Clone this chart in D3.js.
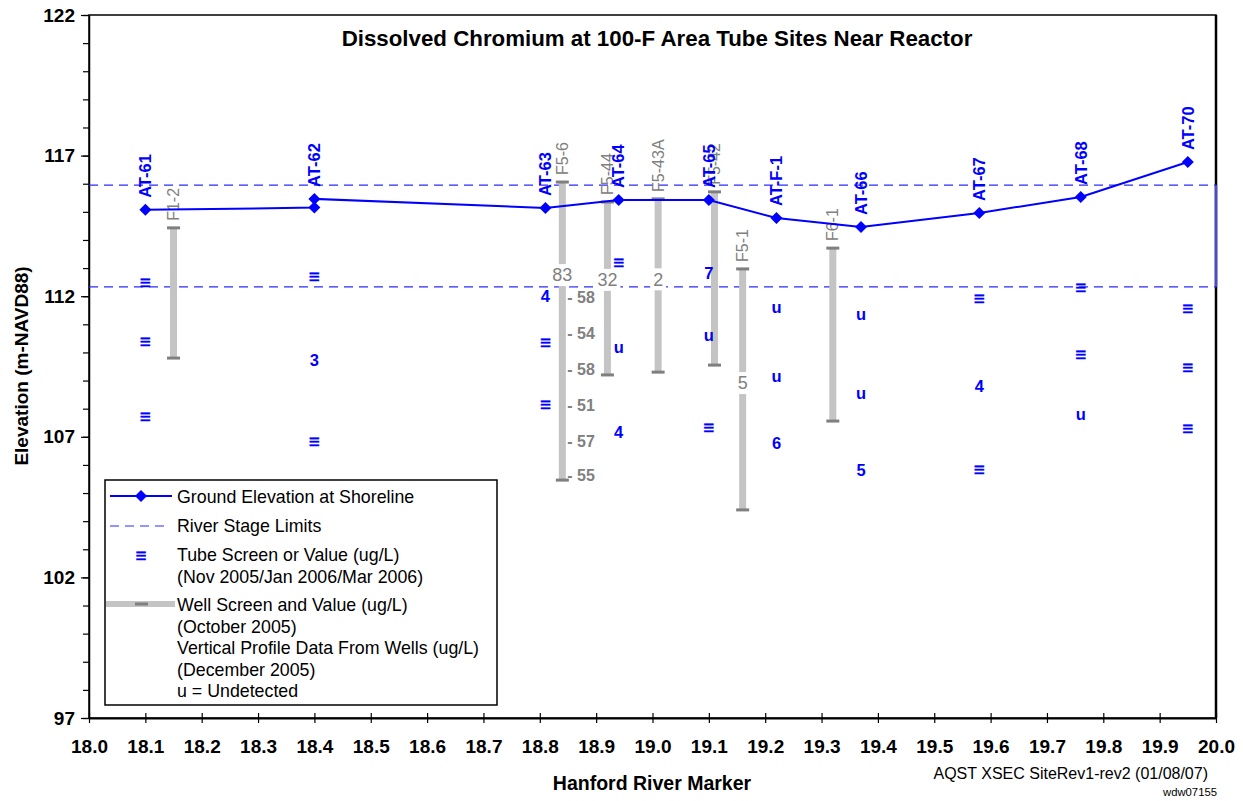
<!DOCTYPE html>
<html>
<head>
<meta charset="utf-8">
<script src="https://cdn.jsdelivr.net/npm/d3@7"></script>
<style>
  html, body { margin: 0; padding: 0; background: #fff; }
  svg { display: block; font-family: "Liberation Sans", Arial, sans-serif; }
</style>
</head>
<body>
<svg id="chart" width="1243" height="801"></svg>
<script>
// ---------------- DATA ----------------
const xTicks = [18.0,18.1,18.2,18.3,18.4,18.5,18.6,18.7,18.8,18.9,19.0,19.1,19.2,19.3,19.4,19.5,19.6,19.7,19.8,19.9,20.0];
const yMajorTicks = [97, 102, 107, 112, 117, 122];
const yMinorTicks = d3.range(97, 123, 1);

// Ground elevation at shoreline (line with diamonds)
const groundRM   = [18.10, 18.40, 18.40, 18.81, 18.94, 19.10, 19.22, 19.37, 19.58, 19.76, 19.95];
const groundElev = [115.07, 115.15, 115.46, 115.14, 115.42, 115.42, 114.78, 114.46, 114.96, 115.53, 116.77];

// River stage limits
const riverStage = [115.95, 112.33];

// Tube sites
const tubeNames = ["AT-61","AT-62","AT-63","AT-64","AT-65","AT-F-1","AT-66","AT-67","AT-68","AT-70"];
const tubeRM    = [18.10, 18.40, 18.81, 18.94, 19.10, 19.22, 19.37, 19.58, 19.76, 19.95];
const tubeTop   = [115.07, 115.46, 115.14, 115.42, 115.42, 114.78, 114.46, 114.96, 115.53, 116.77];
// Tube screen depths (elevation) and values, three per tube
const tubeElevs = [
  [112.47, 110.37, 107.70],
  [112.68, 109.73, 106.82],
  [112.01, 110.34, 108.13],
  [113.18, 110.19, 107.17],
  [112.83, 110.62, 107.31],
  [111.62, 109.16, 106.78],
  [111.37, 108.56, 105.82],
  [111.90, 108.81, 105.82],
  [112.29, 109.91, 107.81],
  [111.54, 109.45, 107.28]
];
const tubeValues = [
  ["≡","≡","≡"],
  ["≡","3","≡"],
  ["4","≡","≡"],
  ["≡","u","4"],
  ["7","u","≡"],
  ["u","u","6"],
  ["u","u","5"],
  ["≡","4","≡"],
  ["≡","≡","u"],
  ["≡","≡","≡"]
];

// Wells
const wellNames   = ["F1-2","F5-6","F5-44","F5-43A","F5-42","F5-1","F6-1"];
const wellRM      = [18.15, 18.84, 18.92, 19.01, 19.11, 19.16, 19.32];
const wellTop     = [114.43, 116.06, 115.35, 115.46, 115.71, 112.97, 113.71];
const wellBottom  = [109.80, 105.46, 109.20, 109.30, 109.55, 104.40, 107.56];
const wellValue   = [null, "83", "32", "2", null, "5", null];
const wellValElev = [null, 112.75, 112.58, 112.60, null, 108.91, null];

// Vertical profile data (well F5-6, December 2005)
const profileRM     = 18.84;
const profileElevs  = [111.94, 110.66, 109.41, 108.13, 106.82, 105.64];
const profileValues = ["58", "54", "58", "51", "57", "55"];

// ---------------- CHART ----------------
const svg = d3.select("#chart");
const L = 89, R = 1216, T = 15, B = 718;
const x = d3.scaleLinear().domain([18.0, 20.0]).range([L, R]);
const y = d3.scaleLinear().domain([97, 122]).range([B, T]);

const BLUE = "#0000ff";
const DASH = "#2b2bff";
const GRAYBAR = "#c4c4c4";
const GRAYDARK = "#7f7f7f";
const GRAYTXT = "#808080";
const FONT = '"Liberation Sans", Arial, sans-serif';

// plot frame
svg.append("rect").attr("x", L).attr("y", T).attr("width", R - L).attr("height", B - T)
  .attr("fill", "none").attr("stroke", "#000").attr("stroke-width", 1.5);
svg.append("line").attr("x1", R).attr("x2", R).attr("y1", T).attr("y2", B)
  .attr("stroke", "#000").attr("stroke-width", 2.5);
// blue segment on right edge between river stage limits
svg.append("line").attr("x1", R).attr("x2", R)
  .attr("y1", y(riverStage[0])).attr("y2", y(riverStage[1]))
  .attr("stroke", "#4a4ad0").attr("stroke-width", 2.5);

// X axis
const xAxis = d3.axisBottom(x).tickValues(xTicks).tickFormat(d3.format(".1f"))
  .tickSizeInner(5).tickSizeOuter(0).tickPadding(17);
const gx = svg.append("g").attr("transform", `translate(0,${B})`).call(xAxis);
gx.select(".domain").attr("stroke", "#000").attr("stroke-width", 2);
gx.selectAll(".tick line").attr("y1", -5).attr("y2", 5).attr("stroke", "#000").attr("stroke-width", 1.2);
gx.selectAll(".tick text").attr("font-size", 19).attr("font-weight", "bold")
  .attr("font-family", FONT).attr("fill", "#000");

// Y axis minor ticks
const gyMinor = svg.append("g").attr("transform", `translate(${L},0)`)
  .call(d3.axisLeft(y).tickValues(yMinorTicks).tickSize(6).tickFormat(""));
gyMinor.select(".domain").remove();
gyMinor.selectAll(".tick line").attr("stroke", "#000").attr("stroke-width", 1.2);
// Y axis major
const gy = svg.append("g").attr("transform", `translate(${L},0)`)
  .call(d3.axisLeft(y).tickValues(yMajorTicks).tickSizeInner(8).tickSizeOuter(0).tickPadding(6));
gy.select(".domain").attr("stroke", "#000").attr("stroke-width", 1.5);
gy.selectAll(".tick line").attr("stroke", "#000").attr("stroke-width", 1.2);
gy.selectAll(".tick text").attr("font-size", 19).attr("font-weight", "bold")
  .attr("font-family", FONT).attr("fill", "#000");

// river stage limits
svg.selectAll(".stage").data(riverStage).enter().append("line")
  .attr("x1", L).attr("x2", R).attr("y1", d => y(d)).attr("y2", d => y(d))
  .attr("stroke", DASH).attr("stroke-width", 1.2).attr("stroke-dasharray", "9,6");

// wells
const wells = wellNames.map((n, i) => ({n, rm: wellRM[i], top: wellTop[i], bot: wellBottom[i], v: wellValue[i], ve: wellValElev[i]}));
const wg = svg.append("g");
wg.selectAll(".wbar").data(wells).enter().append("rect")
  .attr("x", d => x(d.rm) - 3.5).attr("width", 7)
  .attr("y", d => y(d.top)).attr("height", d => y(d.bot) - y(d.top))
  .attr("fill", GRAYBAR);
wg.selectAll(".capt").data(wells).enter().append("rect")
  .attr("x", d => x(d.rm) - 6.5).attr("width", 13)
  .attr("y", d => y(d.top) - 1.5).attr("height", 3).attr("fill", GRAYDARK);
wg.selectAll(".capb").data(wells).enter().append("rect")
  .attr("x", d => x(d.rm) - 6.5).attr("width", 13)
  .attr("y", d => y(d.bot) - 1.5).attr("height", 3).attr("fill", GRAYDARK);
// value labels with white background gap
const wv = wells.filter(d => d.v !== null);
wg.selectAll(".wvbg").data(wv).enter().append("rect")
  .attr("x", d => x(d.rm) - d.v.length * 5 - 3).attr("width", d => d.v.length * 10 + 6)
  .attr("y", d => y(d.ve) - 11).attr("height", 22).attr("fill", "#fff");
wg.selectAll(".wvt").data(wv).enter().append("text")
  .attr("x", d => x(d.rm)).attr("y", d => y(d.ve)).attr("dy", "0.35em")
  .attr("text-anchor", "middle").attr("font-size", 18).attr("fill", GRAYTXT).text(d => d.v);
// well names
wg.selectAll(".wname").data(wells).enter().append("text")
  .attr("transform", d => `translate(${x(d.rm)},${y(d.top) - 7}) rotate(-90)`)
  .attr("dy", "0.35em").attr("text-anchor", "start")
  .attr("font-size", 16).attr("fill", GRAYTXT).text(d => d.n);

// vertical profile labels
const prof = profileElevs.map((e, i) => ({e, v: profileValues[i]}));
svg.selectAll(".prof").data(prof).enter().append("text")
  .attr("x", x(profileRM) + 5).attr("y", d => y(d.e)).attr("dy", "0.35em")
  .attr("font-size", 16).attr("font-weight", "bold").attr("fill", GRAYTXT)
  .attr("xml:space", "preserve").text(d => "- " + d.v);

// ground elevation line
const gpts = groundRM.map((r, i) => [r, groundElev[i]]);
svg.append("path").datum(gpts)
  .attr("d", d3.line().x(d => x(d[0])).y(d => y(d[1])))
  .attr("fill", "none").attr("stroke", BLUE).attr("stroke-width", 2);
const diamond = d3.symbol().type(d3.symbolSquare).size(72);
svg.selectAll(".gpt").data(gpts).enter().append("path")
  .attr("d", diamond)
  .attr("transform", d => `translate(${x(d[0])},${y(d[1])}) rotate(45)`)
  .attr("fill", BLUE);

// tube labels
const tubes = tubeNames.map((n, i) => ({n, rm: tubeRM[i], top: tubeTop[i]}));
svg.selectAll(".tname").data(tubes).enter().append("text")
  .attr("transform", d => `translate(${x(d.rm)},${y(d.top) - 12}) rotate(-90)`)
  .attr("dy", "0.35em").attr("text-anchor", "start")
  .attr("font-size", 16.5).attr("font-weight", "bold").attr("fill", BLUE).text(d => d.n);

// tube values
const tv = [];
tubeNames.forEach((n, i) => tubeElevs[i].forEach((e, j) => tv.push({rm: tubeRM[i], e, v: tubeValues[i][j]})));
svg.selectAll(".tval").data(tv).enter().append("text")
  .attr("x", d => x(d.rm)).attr("y", d => y(d.e))
  .attr("dy", d => d.v === "≡" ? "0.32em" : "0.35em")
  .attr("text-anchor", "middle")
  .attr("font-size", d => d.v === "≡" ? 19 : 16.5)
  .attr("font-weight", "bold").attr("fill", BLUE)
  .attr("stroke", d => d.v === "≡" ? BLUE : "none").attr("stroke-width", 0.4)
  .text(d => d.v);

// title
svg.append("text").attr("x", 657).attr("y", 38).attr("dy", "0.35em")
  .attr("text-anchor", "middle").attr("font-size", 22.3).attr("font-weight", "bold")
  .text("Dissolved Chromium at 100-F Area Tube Sites Near Reactor");

// axis titles
svg.append("text").attr("x", 652).attr("y", 783).attr("dy", "0.35em")
  .attr("text-anchor", "middle").attr("font-size", 19.5).attr("font-weight", "bold")
  .text("Hanford River Marker");
svg.append("text").attr("transform", "translate(21,366) rotate(-90)").attr("dy", "0.35em")
  .attr("text-anchor", "middle").attr("font-size", 19).attr("font-weight", "bold")
  .text("Elevation (m-NAVD88)");

// footnotes
svg.append("text").attr("x", 1208).attr("y", 773).attr("dy", "0.35em")
  .attr("text-anchor", "end").attr("font-size", 16).text("AQST XSEC SiteRev1-rev2 (01/08/07)");
svg.append("text").attr("x", 1217).attr("y", 792).attr("dy", "0.35em")
  .attr("text-anchor", "end").attr("font-size", 11.3).text("wdw07155");

// legend
const lg = svg.append("g");
lg.append("rect").attr("x", 105).attr("y", 480).attr("width", 392).attr("height", 225)
  .attr("fill", "#fff").attr("stroke", "#000").attr("stroke-width", 1.5);
lg.append("line").attr("x1", 110).attr("x2", 172).attr("y1", 496).attr("y2", 496)
  .attr("stroke", BLUE).attr("stroke-width", 2);
lg.append("path").attr("d", diamond).attr("transform", "translate(141,496) rotate(45)").attr("fill", BLUE);
lg.append("line").attr("x1", 110).attr("x2", 170).attr("y1", 526).attr("y2", 526)
  .attr("stroke", DASH).attr("stroke-width", 1.2).attr("stroke-dasharray", "9,6");
lg.append("text").attr("x", 141).attr("y", 556).attr("dy", "0.32em").attr("text-anchor", "middle")
  .attr("font-size", 19).attr("font-weight", "bold").attr("fill", BLUE)
  .attr("stroke", BLUE).attr("stroke-width", 0.4).text("≡");
lg.append("line").attr("x1", 106).attr("x2", 175).attr("y1", 604).attr("y2", 604)
  .attr("stroke", GRAYBAR).attr("stroke-width", 6);
lg.append("rect").attr("x", 135).attr("y", 602.5).attr("width", 13).attr("height", 3).attr("fill", GRAYDARK);

const legendLines = [
  ["Ground Elevation at Shoreline", 497],
  ["River Stage Limits", 526],
  ["Tube Screen or Value (ug/L)", 555],
  ["(Nov 2005/Jan 2006/Mar 2006)", 577],
  ["Well Screen and Value (ug/L)", 605],
  ["(October 2005)", 627],
  ["Vertical Profile Data From Wells (ug/L)", 648],
  ["(December 2005)", 670],
  ["u = Undetected", 691]
];
lg.selectAll(".lt").data(legendLines).enter().append("text")
  .attr("x", 177).attr("y", d => d[1]).attr("dy", "0.35em")
  .attr("font-size", 17.8).attr("fill", "#000").text(d => d[0]);
</script>
</body>
</html>
